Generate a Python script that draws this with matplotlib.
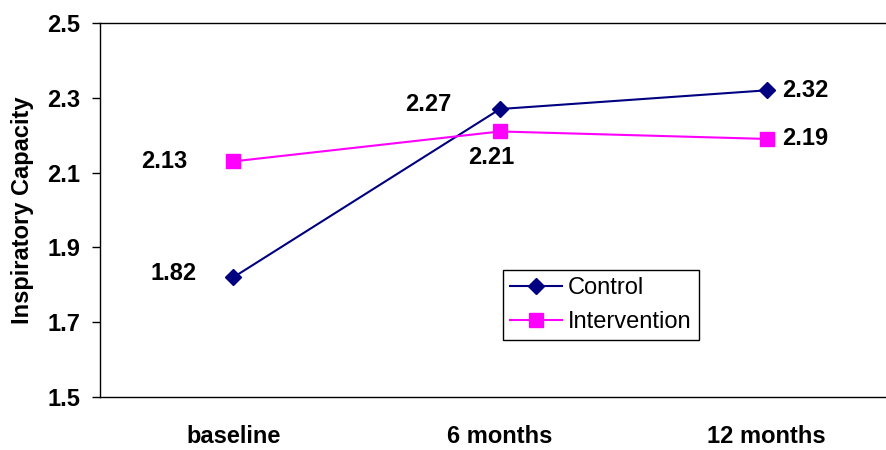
import matplotlib
matplotlib.use("Agg")
import matplotlib.pyplot as plt

# 資料
categories = ["baseline", "6 months", "12 months"]
control = [1.82, 2.27, 2.32]
intervention = [2.13, 2.21, 2.19]

plt.rcParams['font.family'] = ['Liberation Sans', 'DejaVu Sans']

fig = plt.figure(figsize=(8.87, 4.5), dpi=100)
ax = fig.add_axes([100/887, 53/450, 800/887, 374/450])

x = range(len(categories))
ax.plot(x, control, color="#000080", marker="D", markersize=8, linewidth=1.5, label="Control")
ax.plot(x, intervention, color="#FF00FF", marker="s", markersize=10, linewidth=1.5, label="Intervention")

# 數值標籤 (位移單位: points)
ctrl_off = [(-43, 3), (-52, 3), (28, 0)]
int_off = [(-50, 0), (-6.5, -19), (28, 0)]
for i, v in enumerate(control):
    ax.annotate(f"{v:.2f}", (i, v), xytext=ctrl_off[i], textcoords="offset points",
                ha="center", va="center", fontsize=17, fontweight="bold")
for i, v in enumerate(intervention):
    ax.annotate(f"{v:.2f}", (i, v), xytext=int_off[i], textcoords="offset points",
                ha="center", va="center", fontsize=17, fontweight="bold")

ax.set_xlim(-0.5, 2.5)
ax.set_ylim(1.5, 2.5)
ax.set_yticks([1.5, 1.7, 1.9, 2.1, 2.3, 2.5])
ax.set_yticklabels(["1.5", "1.7", "1.9", "2.1", "2.3", "2.5"], fontsize=17, fontweight="bold")
ax.set_xticks(list(x))
ax.set_xticklabels(categories, fontsize=17, fontweight="bold")
ax.tick_params(axis="x", length=0, pad=20)
ax.tick_params(axis="y", length=6, width=1, direction="out", pad=8)
ax.set_ylabel("Inspiratory Capacity", fontsize=17, fontweight="bold", labelpad=10)

ax.spines["right"].set_visible(False)
for s in ["left", "bottom", "top"]:
    ax.spines[s].set_linewidth(1)
    ax.spines[s].set_color("black")

leg = ax.legend(loc="lower left", bbox_to_anchor=(0.504, 0.152), fontsize=17,
                fancybox=False, edgecolor="black", framealpha=1,
                borderpad=0.3, handlelength=2.2, handletextpad=0.25, labelspacing=0.5,
                borderaxespad=0)
leg.get_frame().set_linewidth(1)

fig.savefig("out.png", dpi=100)
